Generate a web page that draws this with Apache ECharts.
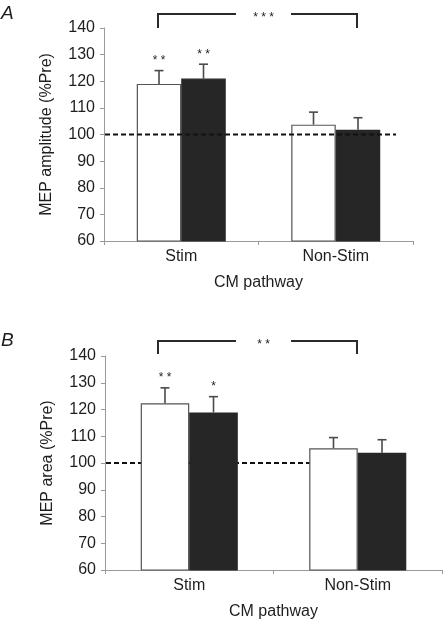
<!DOCTYPE html>
<html>
<head>
<meta charset="utf-8">
<script src="https://cdn.jsdelivr.net/npm/echarts@6/dist/echarts.min.js"></script>
<style>html,body{margin:0;padding:0;background:#fff;}#c{width:443px;height:621px;}</style>
</head>
<body>
<div id="c"></div>
<script>
// ---- data ----
const categories = ['Stim', 'Non-Stim'];
const yTicks = [60, 70, 80, 90, 100, 110, 120, 130, 140];
const refValue = 100;

// Panel A: MEP amplitude (%Pre)
const ampWhite = [119, 103.7];
const ampWhiteErr = [5, 4.7];
const ampBlack = [121, 101.8];
const ampBlackErr = [5.4, 4.5];
const ampWhiteSig = ['* *', ''];
const ampBlackSig = ['* *', ''];
const ampBracketSig = '* * *';

// Panel B: MEP area (%Pre)
const areaWhite = [122.3, 105.5];
const areaWhiteErr = [5.8, 4.0];
const areaBlack = [118.9, 103.8];
const areaBlackErr = [5.9, 4.9];
const areaWhiteSig = ['* *', ''];
const areaBlackSig = ['*', ''];
const areaBracketSig = '* *';

// ---- chart ----
const FONT = '"Liberation Sans", Arial, sans-serif';
const TXT = '#1e1e1e';
const AX = '#9a9a9a';
const GAP = 0.424;

function xAxisCfg(grid) {
  return {
    type: 'category', gridIndex: grid, data: categories,
    axisLine: { lineStyle: { color: AX, width: 1 } },
    axisTick: { show: true, length: 4, lineStyle: { color: AX } },
    axisLabel: { color: TXT, fontFamily: FONT, fontSize: 16, margin: 8 },
    name: 'CM pathway', nameLocation: 'middle', nameGap: 34,
    nameTextStyle: { color: TXT, fontFamily: FONT, fontSize: 16 }
  };
}
function yAxisCfg(grid, name) {
  return {
    type: 'value', gridIndex: grid, min: yTicks[0], max: yTicks[yTicks.length - 1], interval: 10,
    splitLine: { show: false },
    axisLine: { show: true, lineStyle: { color: AX, width: 1 } },
    axisTick: { show: true, length: 4, lineStyle: { color: AX } },
    axisLabel: { color: TXT, fontFamily: FONT, fontSize: 16, margin: 9 },
    name: name, nameLocation: 'middle', nameGap: 49, nameRotate: 90,
    nameTextStyle: { color: TXT, fontFamily: FONT, fontSize: 16 }
  };
}
function barSeries(grid, data, color, border) {
  return {
    type: 'bar', xAxisIndex: grid, yAxisIndex: grid, data: data,
    barGap: '0%', barCategoryGap: (GAP * 100) + '%', z: 3,
    itemStyle: { color: color, borderColor: border, borderWidth: 1.2 },
    emphasis: { disabled: true }, animation: false
  };
}
function errSeries(grid, means, errs, side, sigs) {
  return {
    type: 'custom', xAxisIndex: grid, yAxisIndex: grid, z: 5, animation: false, silent: true,
    data: means.map((m, i) => [i, m, errs[i], side]),
    renderItem: function (params, api) {
      const cat = api.value(0), mean = api.value(1), err = api.value(2), sd = api.value(3);
      const band = api.size([1, 0])[0];
      const bw = band * (1 - GAP) / 2;
      const p = api.coord([cat, mean]);
      const x = p[0] + sd * bw / 2;
      const top = api.coord([cat, mean + err])[1];
      const col = '#4a4a4a';
      return {
        type: 'group', children: [
          { type: 'line', shape: { x1: x, y1: p[1], x2: x, y2: top }, style: { stroke: col, lineWidth: 1.6 } },
          { type: 'line', shape: { x1: x - 4.5, y1: top, x2: x + 4.5, y2: top }, style: { stroke: col, lineWidth: 1.6 } },
          { type: 'text', x: x, y: top - 4, style: { text: sigs[params.dataIndex], fill: TXT, font: '12px ' + FONT, textAlign: 'center', textVerticalAlign: 'bottom' } }
        ]
      };
    }
  };
}
function refSeries(grid, frac, z) {
  return {
    type: 'custom', xAxisIndex: grid, yAxisIndex: grid, z: z, animation: false, silent: true,
    data: [[0, refValue]],
    renderItem: function (params, api) {
      const cs = params.coordSys;
      const y = api.coord([0, api.value(1)])[1];
      return { type: 'line', shape: { x1: cs.x + 1, y1: y, x2: cs.x + frac * cs.width, y2: y },
        style: { stroke: '#111', lineWidth: 1.8, lineDash: [5, 3] } };
    }
  };
}

const chart = echarts.init(document.getElementById('c'), null, { renderer: 'canvas' });

function bracket(x1, x2, yTop, yLeg, gapL, gapR, txt, ty) {
  const st = { stroke: '#2a2a2a', lineWidth: 2 };
  return [
    { type: 'polyline', shape: { points: [[x1, yLeg], [x1, yTop], [gapL, yTop]] }, style: Object.assign({ fill: null }, st) },
    { type: 'polyline', shape: { points: [[gapR, yTop], [x2, yTop], [x2, yLeg]] }, style: Object.assign({ fill: null }, st) },
    { type: 'text', x: (gapL + gapR) / 2, y: ty, style: { text: txt, fill: TXT, font: '12px ' + FONT, textAlign: 'center', textVerticalAlign: 'middle' } }
  ];
}

chart.setOption({
  animation: false,
  grid: [
    { left: 104, top: 28, width: 309, height: 213 },
    { left: 105, top: 356, width: 337, height: 214 }
  ],
  xAxis: [xAxisCfg(0), xAxisCfg(1)],
  yAxis: [yAxisCfg(0, 'MEP amplitude (%Pre)'), yAxisCfg(1, 'MEP area (%Pre)')],
  series: [
    refSeries(0, 0.945, 6),
    barSeries(0, ampWhite, '#ffffff', '#555'),
    barSeries(0, ampBlack, '#262626', '#262626'),
    errSeries(0, ampWhite, ampWhiteErr, -1, ampWhiteSig),
    errSeries(0, ampBlack, ampBlackErr, 1, ampBlackSig),
    refSeries(1, 0.746, 1),
    barSeries(1, areaWhite, '#ffffff', '#555'),
    barSeries(1, areaBlack, '#262626', '#262626'),
    errSeries(1, areaWhite, areaWhiteErr, -1, areaWhiteSig),
    errSeries(1, areaBlack, areaBlackErr, 1, areaBlackSig)
  ],
  graphic: [
    { type: 'text', left: 1, top: 4, style: { text: 'A', fill: TXT, font: 'italic 19px ' + FONT } },
    { type: 'text', left: 1, top: 331, style: { text: 'B', fill: TXT, font: 'italic 19px ' + FONT } }
  ].concat(
    bracket(158, 357, 14, 28, 236, 291, ampBracketSig, 18),
    bracket(158, 357, 341, 354, 236, 291, areaBracketSig, 345)
  )
});
</script>
</body>
</html>
